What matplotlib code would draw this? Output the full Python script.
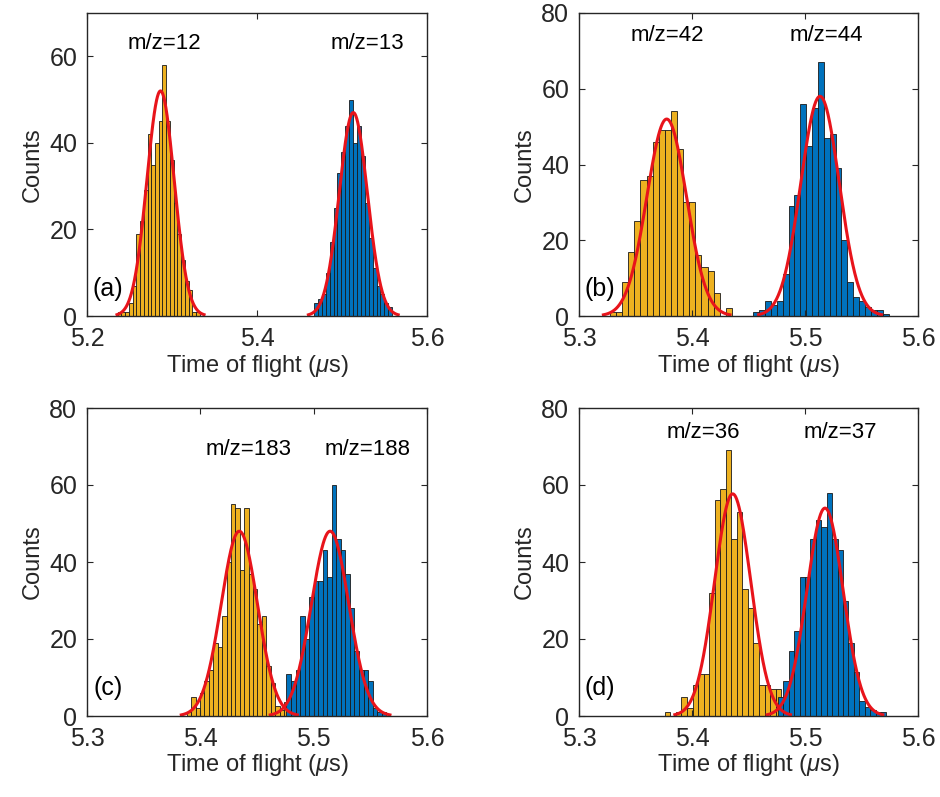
import numpy as np
import matplotlib
matplotlib.use("Agg")
import matplotlib.pyplot as plt

plt.rcParams['font.family'] = ['Liberation Sans', 'DejaVu Sans']
plt.rcParams['mathtext.fontset'] = 'custom'
plt.rcParams['mathtext.it'] = 'Liberation Sans:italic'
plt.rcParams['mathtext.rm'] = 'Liberation Sans'

YELLOW = '#EDB120'
BLUE = '#0072BD'
RED = '#E8141B'

# ---------------- data ----------------
# panel (a)
a_y_start, a_y_width = 5.236, 0.0044
a_y_counts = [1, 1, 1, 3, 7, 19, 22, 29, 42, 35, 40, 45, 58, 45, 36, 26, 19, 13, 8, 6, 1, 1]
a_b_start, a_b_width = 5.467, 0.0046
a_b_counts = [3, 4, 5, 10, 17, 25, 33, 38, 44, 50, 40, 44, 37, 26, 18, 11, 7, 5, 3, 2]
a_fit_y = (52, 5.2865, 0.0160)   # amplitude, centre, sigma
a_fit_b = (47, 5.5133, 0.0165)

# panel (b)
b_y_start, b_y_width = 5.3274, 0.0054
b_y_counts = [1, 1, 9, 17, 25, 36, 37, 46, 49, 49, 54, 44, 30, 30, 16, 13, 12, 6, 0, 2]
b_b_start, b_b_width = 5.4543, 0.0052
b_b_counts = [1, 1.5, 4, 3, 4, 11, 29, 32, 56, 45, 55, 67, 47, 48, 39, 20, 9, 5, 4, 2.4, 1.7, 1.5, 0.5]
b_fit_y = (52, 5.3776, 0.0175)
b_fit_b = (58, 5.5133, 0.0170)

# panel (c)
c_y_start, c_y_width = 5.388, 0.0039
c_y_counts = [1, 5, 2, 6, 9, 12, 19, 18, 26, 40, 55, 54, 38, 54, 37, 33, 24, 26, 13, 8.5, 2.6, 1.6, 3.7]
c_b_start, c_b_width = 5.476, 0.0040
c_b_counts = [11, 9, 12, 26, 20, 31, 35, 35, 43, 36, 60, 46, 43, 37, 28, 17, 12, 12, 9, 2, 1, 1]
c_fit_y = (48, 5.4344, 0.0160)
c_fit_b = (48, 5.5145, 0.0165)

# panel (d)
d_y_start, d_y_width = 5.376, 0.0049
d_y_counts = [1, 0, 1, 5, 2, 8, 11, 11, 32, 56, 59, 69, 46, 53, 33, 28, 19, 8, 8, 7, 7, 3]
d_b_start, d_b_width = 5.476, 0.0048
d_b_counts = [5, 9, 17, 22, 36, 36, 46, 51, 49, 58, 46, 43, 30, 19, 11.5, 4, 2.4, 1.5, 1, 1]
d_fit_y = (57.7, 5.4360, 0.0160)
d_fit_b = (54, 5.5177, 0.0160)

panels = [
    dict(label='(a)', xlim=(5.2, 5.6), xticks=[5.2, 5.4, 5.6], ylim=(0, 70), yticks=[0, 20, 40, 60],
         yh=(a_y_start, a_y_width, a_y_counts), bh=(a_b_start, a_b_width, a_b_counts),
         fy=a_fit_y, fb=a_fit_b,
         texts=[('m/z=12', 0.229, 0.90), ('m/z=13', 0.824, 0.90)],
         pos=[87, 13, 427, 316]),
    dict(label='(b)', xlim=(5.3, 5.6), xticks=[5.3, 5.4, 5.5, 5.6], ylim=(0, 80), yticks=[0, 20, 40, 60, 80],
         yh=(b_y_start, b_y_width, b_y_counts), bh=(b_b_start, b_b_width, b_b_counts),
         fy=b_fit_y, fb=b_fit_b,
         texts=[('m/z=42', 0.26, 0.925), ('m/z=44', 0.729, 0.925)],
         pos=[579, 13, 918, 316]),
    dict(label='(c)', xlim=(5.3, 5.6), xticks=[5.3, 5.4, 5.5, 5.6], ylim=(0, 80), yticks=[0, 20, 40, 60, 80],
         yh=(c_y_start, c_y_width, c_y_counts), bh=(c_b_start, c_b_width, c_b_counts),
         fy=c_fit_y, fb=c_fit_b,
         texts=[('m/z=183', 0.474, 0.864), ('m/z=188', 0.826, 0.864)],
         pos=[87, 408, 427, 716]),
    dict(label='(d)', xlim=(5.3, 5.6), xticks=[5.3, 5.4, 5.5, 5.6], ylim=(0, 80), yticks=[0, 20, 40, 60, 80],
         yh=(d_y_start, d_y_width, d_y_counts), bh=(d_b_start, d_b_width, d_b_counts),
         fy=d_fit_y, fb=d_fit_b,
         texts=[('m/z=36', 0.366, 0.922), ('m/z=37', 0.77, 0.922)],
         pos=[579, 408, 918, 716]),
]

W, H = 940, 797
fig = plt.figure(figsize=(W / 100, H / 100), dpi=100)

def draw_hist(ax, start, width, counts, color):
    counts = np.asarray(counts, dtype=float)
    lefts = start + width * np.arange(len(counts))
    ax.bar(lefts, counts, width=width, align='edge', color=color,
           edgecolor='#1a1a1a', linewidth=0.6)

def draw_fit(ax, fit):
    amp, mu, sig = fit
    xx = np.linspace(mu - 3.2 * sig, mu + 3.2 * sig, 300)
    ax.plot(xx, amp * np.exp(-0.5 * ((xx - mu) / sig) ** 2), color=RED, lw=2.2)

for p in panels:
    x0, y0, x1, y1 = p['pos']
    ax = fig.add_axes([x0 / W, 1 - y1 / H, (x1 - x0) / W, (y1 - y0) / H])
    draw_hist(ax, *p['yh'], YELLOW)
    draw_hist(ax, *p['bh'], BLUE)
    draw_fit(ax, p['fy'])
    draw_fit(ax, p['fb'])
    ax.set_xlim(*p['xlim'])
    ax.set_ylim(*p['ylim'])
    ax.set_xticks(p['xticks'])
    ax.set_xticklabels([f'{v:.1f}' for v in p['xticks']])
    ax.set_yticks(p['yticks'])
    ax.tick_params(direction='in', top=True, right=True, labelsize=18,
                   length=4, width=0.8, colors='#262626')
    ax.tick_params(axis='x', pad=8)
    ax.tick_params(axis='y', pad=7)
    for s in ax.spines.values():
        s.set_color('#262626')
        s.set_linewidth(1.0)
    ax.set_xlabel(r'Time of flight ($\mu$s)', fontsize=17, color='#262626', labelpad=1)
    ax.set_ylabel('Counts', fontsize=17, color='#262626', labelpad=4)
    for t, tx, ty in p['texts']:
        ax.text(tx, ty, t, transform=ax.transAxes, ha='center', va='center', fontsize=16)
    ax.text(0.062, 0.09, p['label'], transform=ax.transAxes, ha='center', va='center', fontsize=18)

fig.savefig('out.png', dpi=100)
